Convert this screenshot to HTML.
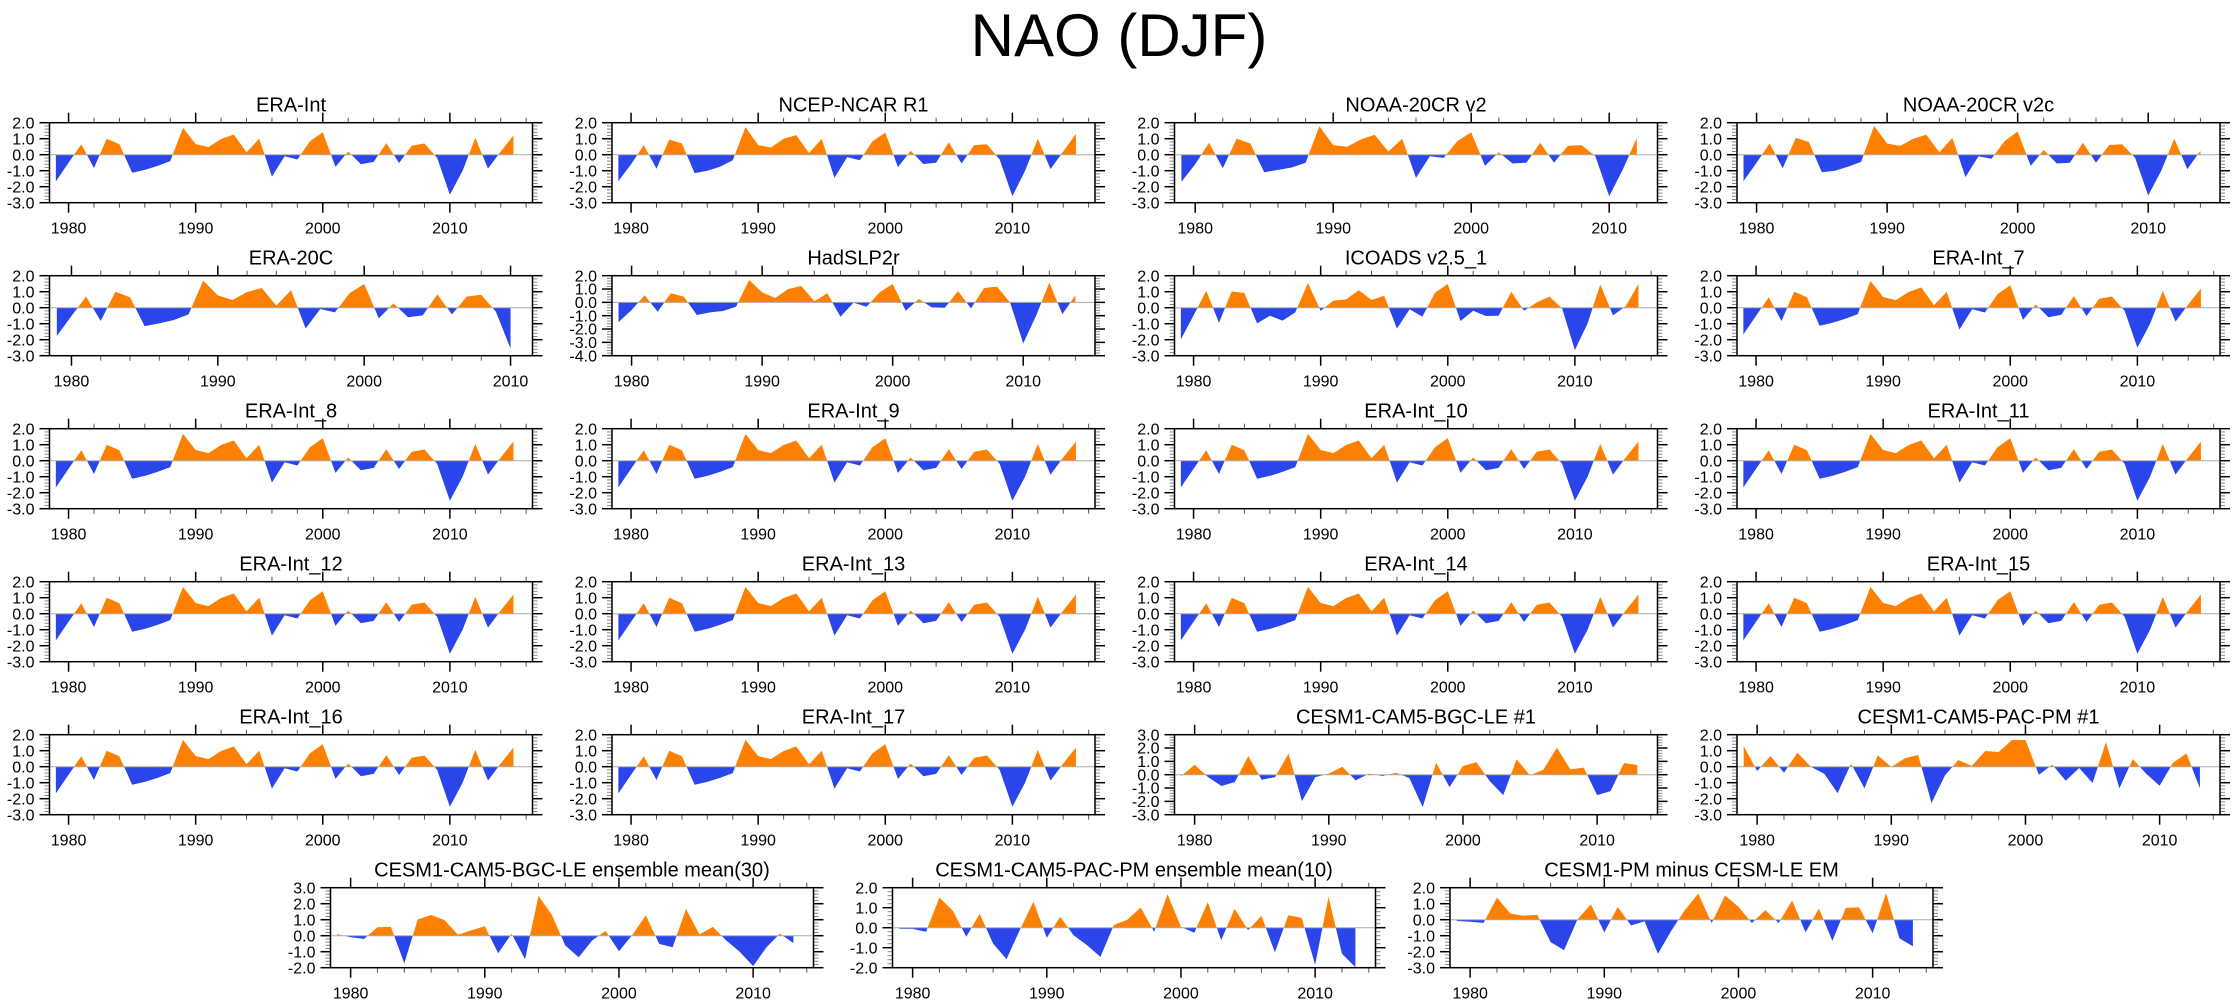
<!DOCTYPE html>
<html><head><meta charset="utf-8">
<style>
html,body{margin:0;padding:0;background:#fff;}
svg{display:block;font-family:"Liberation Sans",sans-serif;}
</style></head>
<body>
<svg id="fig" width="2238" height="1005" viewBox="0 0 2238 1005" xmlns="http://www.w3.org/2000/svg">
<rect x="0" y="0" width="2238" height="1005" fill="#fff"/>
<text x="1119" y="56" text-anchor="middle" font-size="60" fill="#000">NAO (DJF)</text>
</svg>
<script>
const eraInt = [-1.67,-0.5,0.65,-0.83,1.0,0.65,-1.13,-0.95,-0.7,-0.4,1.68,0.67,0.47,0.98,1.26,0.15,1.0,-1.37,-0.1,-0.3,0.85,1.4,-0.76,0.2,-0.6,-0.45,0.72,-0.52,0.56,0.7,-0.2,-2.5,-1.0,1.05,-0.87,0.2,1.2];
const ncep = [-1.65,-0.6,0.6,-0.88,0.95,0.7,-1.15,-1.0,-0.75,-0.35,1.72,0.6,0.45,1.0,1.22,0.1,1.0,-1.45,-0.15,-0.35,0.85,1.38,-0.78,0.25,-0.58,-0.5,0.78,-0.55,0.6,0.65,-0.3,-2.6,-1.0,1.0,-0.9,0.2,1.3];
const noaaV2 = [-1.7,-0.6,0.75,-0.85,1.0,0.7,-1.1,-0.95,-0.8,-0.5,1.78,0.6,0.5,0.95,1.25,0.2,1.0,-1.45,-0.1,-0.2,0.85,1.4,-0.7,0.15,-0.55,-0.5,0.75,-0.5,0.55,0.6,-0.1,-2.6,-0.9,1.05];
const noaaV2c = [-1.65,-0.5,0.7,-0.85,1.05,0.8,-1.1,-1.0,-0.75,-0.45,1.8,0.7,0.55,1.0,1.25,0.15,1.05,-1.4,-0.1,-0.25,0.85,1.45,-0.7,0.3,-0.55,-0.5,0.75,-0.5,0.6,0.65,-0.2,-2.55,-1.0,1.0,-0.9,0.25];
const era20c = [-1.77,-0.52,0.69,-0.83,1.0,0.65,-1.15,-0.98,-0.77,-0.42,1.69,0.77,0.48,0.98,1.23,0.13,1.1,-1.3,-0.08,-0.29,0.9,1.48,-0.67,0.27,-0.6,-0.48,0.83,-0.42,0.69,0.81,-0.25,-2.56];
const hadslp = [-1.48,-0.57,0.53,-0.7,0.68,0.43,-0.95,-0.75,-0.65,-0.33,1.68,0.75,0.33,1.0,1.23,0.08,0.68,-1.08,-0.02,-0.33,0.75,1.38,-0.63,0.25,-0.38,-0.4,0.85,-0.45,1.08,1.18,-0.02,-3.08,-0.98,1.48,-0.88,0.53];
const icoads = [-1.98,-0.48,1.06,-0.94,1.02,0.92,-0.98,-0.5,-0.81,-0.29,1.54,-0.19,0.44,0.52,1.1,0.48,0.75,-1.31,-0.1,-0.56,0.94,1.48,-0.83,-0.19,-0.52,-0.5,1.0,-0.19,0.33,0.69,-0.05,-2.65,-0.98,1.46,-0.48,0.1,1.48];
const bgcLe1 = [-0.1,0.75,-0.18,-0.85,-0.55,1.4,-0.38,-0.18,1.58,-1.98,-0.18,0.08,0.6,-0.43,0.08,-0.1,0.15,-0.25,-2.43,0.9,-0.93,0.65,0.93,-0.48,-1.53,1.15,-0.05,0.38,2.03,0.4,0.53,-1.53,-1.23,0.88,0.73];
const pacPm1 = [1.29,-0.27,0.67,-0.38,0.88,0.0,-0.44,-1.65,0.19,-1.35,0.71,-0.02,0.52,0.73,-2.27,-0.54,0.42,0.04,0.98,0.92,1.67,1.67,-0.5,0.13,-0.88,-0.08,-1.02,1.54,-1.35,0.48,-0.44,-1.19,0.25,0.83,-1.35];
const leEm = [0.1,-0.1,-0.2,0.53,0.55,-1.73,1.01,1.29,0.97,0.06,0.34,0.59,-1.1,0.13,-1.48,2.49,1.29,-0.61,-1.35,-0.3,0.3,-0.97,0.05,1.27,-0.51,-0.72,1.67,0.08,0.55,-0.3,-1.0,-1.9,-0.72,0.13,-0.46];
const pmEm = [-0.05,-0.06,-0.2,1.51,0.84,-0.45,0.7,-0.8,-1.57,-0.1,1.3,-0.5,0.54,-0.38,-0.88,-1.46,0.14,0.4,1.01,-0.2,1.68,0.04,-0.25,1.28,-0.62,0.95,-0.12,0.59,-1.23,0.62,0.49,-1.85,1.55,-1.3,-1.97];
const pmMinusLe = [-0.08,-0.13,-0.2,1.38,0.38,0.25,0.3,-1.4,-1.91,0.02,0.96,-0.79,0.79,-0.36,-0.1,-2.13,-0.68,0.6,1.64,-0.21,1.51,0.81,-0.21,0.6,-0.21,1.21,-0.79,0.7,-1.32,0.74,0.77,-0.85,1.66,-1.17,-1.66];

const panelTitles = ["ERA-Int","NCEP-NCAR R1","NOAA-20CR v2","NOAA-20CR v2c","ERA-20C","HadSLP2r","ICOADS v2.5_1","ERA-Int_7","ERA-Int_8","ERA-Int_9","ERA-Int_10","ERA-Int_11","ERA-Int_12","ERA-Int_13","ERA-Int_14","ERA-Int_15","ERA-Int_16","ERA-Int_17","CESM1-CAM5-BGC-LE #1","CESM1-CAM5-PAC-PM #1","CESM1-CAM5-BGC-LE ensemble mean(30)","CESM1-CAM5-PAC-PM ensemble mean(10)","CESM1-PM minus CESM-LE EM"];
const panelSeries = [eraInt,ncep,noaaV2,noaaV2c,era20c,hadslp,icoads,eraInt,eraInt,eraInt,eraInt,eraInt,eraInt,eraInt,eraInt,eraInt,eraInt,eraInt,bgcLe1,pacPm1,leEm,pmEm,pmMinusLe];
const panelYMax = [2,2,2,2,2,2,2,2,2,2,2,2,2,2,2,2,2,2,3,2,3,2,2];
const panelYMin = [-3,-3,-3,-3,-3,-4,-3,-3,-3,-3,-3,-3,-3,-3,-3,-3,-3,-3,-3,-3,-2,-2,-3];
const panelXMax = [2016.5,2016.5,2013.5,2015.5,2011.5,2015.5,2016.5,2016.5,2016.5,2016.5,2016.5,2016.5,2016.5,2016.5,2016.5,2016.5,2016.5,2016.5,2014.5,2014.5,2014.5,2014.5,2014.5];
const startYear = 1979;
const xMinYear = 1978.5;
const yearTicks = [1980,1990,2000,2010];

const NS = "http://www.w3.org/2000/svg";
const svg = document.getElementById("fig");
const W = 483, H = 80;
const colLeft = [49.5, 612, 1174.5, 1737];
const bottomLeft = [330.5, 892.5, 1450];

function mk(tag, attrs, parent){
  const e = document.createElementNS(NS, tag);
  for (const k in attrs) e.setAttribute(k, attrs[k]);
  parent.appendChild(e);
  return e;
}

panelTitles.forEach((title, i) => {
  let left, top;
  if (i < 20) { left = colLeft[i % 4]; top = 122.7 + Math.floor(i / 4) * 153; }
  else { left = bottomLeft[i - 20]; top = 887.7; }
  const data = panelSeries[i];
  const y0 = panelYMin[i], y1 = panelYMax[i], x1 = panelXMax[i];
  const sx = v => left + (v - xMinYear) / (x1 - xMinYear) * W;
  const sy = v => top + (y1 - v) / (y1 - y0) * H;
  const g = mk("g", {}, svg);
  
  

  const t = mk("text", {x: left + W / 2, y: top - 11, "text-anchor": "middle", "font-size": 20}, g);
  t.textContent = title;
  
  

  const cid = "clip" + i;
  const defs = mk("defs", {}, g);
  const cpU = mk("clipPath", {id: cid + "u"}, defs);
  mk("rect", {x: left, y: top, width: W, height: sy(0) - top}, cpU);
  const cpD = mk("clipPath", {id: cid + "d"}, defs);
  mk("rect", {x: left, y: sy(0), width: W, height: top + H - sy(0)}, cpD);

  let d = "M" + sx(startYear).toFixed(2) + "," + sy(0).toFixed(2);
  data.forEach((v, k) => { d += " L" + sx(startYear + k).toFixed(2) + "," + sy(v).toFixed(2); });
  d += " L" + sx(startYear + data.length - 1).toFixed(2) + "," + sy(0).toFixed(2) + " Z";
  const pos = mk("path", {d: d, fill: "#ff8000", "clip-path": "url(#" + cid + "u)"}, g);
  
  
  const neg = mk("path", {d: d, fill: "#2a45ea", "clip-path": "url(#" + cid + "d)"}, g);
  
  

  const zl = mk("line", {x1: left, x2: left + W, y1: sy(0), y2: sy(0), stroke: "#aaa", "stroke-width": 1}, g);
  
  

  for (let v = y0; v <= y1 + 1e-6; v += 0.2) {
    const vv = Math.round(v * 10) / 10;
    const major = Math.abs(vv - Math.round(vv)) < 1e-6;
    const len = major ? 10 : 5;
    const col = major ? "#000" : "#888";
    mk("line", {x1: left - len, x2: left, y1: sy(vv), y2: sy(vv), stroke: col, "stroke-width": major ? 1.5 : 1}, g);
    mk("line", {x1: left + W, x2: left + W + len, y1: sy(vv), y2: sy(vv), stroke: col, "stroke-width": major ? 1.5 : 1}, g);
    if (major) {
      const lb = mk("text", {x: left - 15, y: sy(vv) + 5.6, "text-anchor": "end", "font-size": 16}, g);
      lb.textContent = vv.toFixed(1);
      
      
    }
  }
  for (let yr = 1980; yr <= x1; yr += 2) {
    const major = yr % 10 === 0;
    const len = major ? 10 : 5;
    mk("line", {x1: sx(yr), x2: sx(yr), y1: top - len, y2: top, stroke: major ? "#000" : "#555", "stroke-width": major ? 1.5 : 1}, g);
    mk("line", {x1: sx(yr), x2: sx(yr), y1: top + H, y2: top + H + len, stroke: major ? "#000" : "#555", "stroke-width": major ? 1.5 : 1}, g);
  }
  yearTicks.forEach(yr => {
    if (yr > x1) return;
    const lb = mk("text", {x: sx(yr), y: top + H + 31, "text-anchor": "middle", "font-size": 16}, g);
    lb.textContent = String(yr);
    
    
  });
  const box = mk("rect", {x: left, y: top, width: W, height: H, fill: "none", stroke: "#000", "stroke-width": 1.5}, g);
  
  
});
</script>
</body></html>
